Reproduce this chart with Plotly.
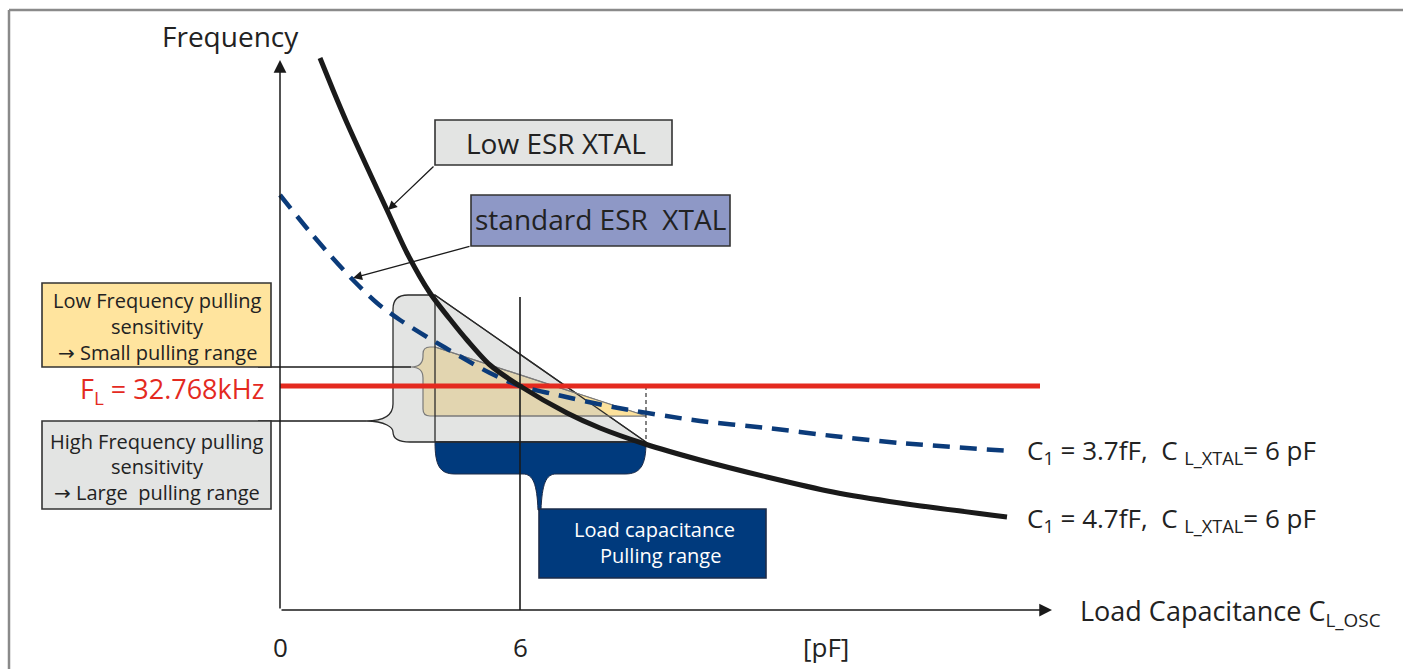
import numpy as np
import plotly.graph_objects as go

# ---------------- data ----------------
# load capacitance [pF] vs. frequency (arbitrary units)
cap_low_esr = [1.0, 1.325, 1.675, 2.175, 2.675, 3.175, 3.75, 4.325, 4.675, 5.25,
               6.0, 7.175, 8.0, 9.125, 10.5, 12.175, 13.825, 15.5, 18.175]
freq_low_esr = [13.8, 13.0, 12.175, 11.075, 10.0, 8.925, 7.925, 7.175, 6.75, 6.125,
                5.6, 4.925, 4.55, 4.15, 3.75, 3.325, 2.95, 2.675, 2.325]
cap_std_esr = [0.0, 0.75, 1.25, 1.825, 2.425, 3.0, 3.675, 4.575, 5.25, 6.0,
               6.825, 8.325, 10.5, 12.175, 13.825, 15.5, 18.25]
freq_std_esr = [10.375, 9.45, 8.875, 8.25, 7.675, 7.25, 6.825, 6.3, 5.925, 5.6,
                5.4, 5.075, 4.725, 4.55, 4.35, 4.175, 3.975]
f_load = 5.6            # F_L = 32.768 kHz
c_load_xtal = 6.0       # pF
pull_c = [3.875, 9.15]            # load capacitance pulling range [pF]
pull_f_low_esr = [7.875, 4.2]     # frequency span, low ESR crystal
pull_f_std_esr = [6.575, 4.85]    # frequency span, standard ESR crystal
red_line_x = [0.0, 19.0]
x_tick_vals = [0, 6, 13.65]
x_tick_text = ["0", "6", "[pF]"]

# ---------------- helpers (pixel <-> data for decoration) ----------------
def X(px):
    return (px - 280) / 40.0

def Y(py):
    return (610 - py) / 40.0

def PX(x):
    return 280 + 40.0 * x

def PY(y):
    return 610 - 40.0 * y

def path(cmds):
    s = ""
    for c in cmds:
        op, pts = c[0], c[1:]
        s += op
        for i in range(0, len(pts), 2):
            s += " %.4f,%.4f" % (X(pts[i]), Y(pts[i + 1]))
        s += " "
    return s + "Z"

FONT = "Open Sans"
TXT = "#222222"

fig = go.Figure()

# ---------------- pulling-range regions ----------------
c_lo, c_hi = pull_c
fs_hi, fs_lo = pull_f_low_esr
fd_hi, fd_lo = pull_f_std_esr

xl, xr = PX(c_lo), PX(c_hi)
gy0, gy1 = PY(fs_hi), PY(fs_lo)
yy0, yy1 = PY(fd_hi), PY(fd_lo)

shapes = []
# gray (large pulling range) with brace on the left
gray = path([("M", xl, gy0), ("L", xr, gy1), ("L", xl, gy1), ("L", 410, gy1),
             ("Q", 393, gy1, 393, gy1 - 10),
             ("C", 393, 428, 386, 421, 366, 421),
             ("C", 386, 421, 393, 414, 393, 404),
             ("L", 393, gy0 + 14), ("Q", 393, gy0, 408, gy0)])
shapes.append(dict(type="path", path=gray, fillcolor="#E3E4E3",
                   line=dict(color="#2b2b2b", width=1.3), layer="below"))
# yellow (small pulling range) with brace
yel = path([("M", xl, yy0), ("L", xr, yy1), ("L", xl, yy1), ("L", 430, yy1),
            ("Q", 423, yy1, 423, yy1 - 7),
            ("L", 423, 378), ("C", 423, 371, 419, 367, 411, 367),
            ("C", 419, 367, 423, 363, 423, 356),
            ("L", 423, yy0 + 7), ("Q", 423, yy0, 430, yy0)])
shapes.append(dict(type="path", path=yel, fillcolor="#E2D5B0",
                   line=dict(color="#7a7a7a", width=1.2), layer="below"))
# part of the yellow triangle outside the gray triangle
t = (fs_hi - fd_hi) / ((fd_lo - fd_hi) - (fs_lo - fs_hi))
t2 = (fd_lo - fs_hi) / (fs_lo - fs_hi)
cx = c_lo + (c_hi - c_lo) * t
cy = fs_hi + (fs_lo - fs_hi) * t
cx2 = c_lo + (c_hi - c_lo) * t2
tip = path([("M", PX(cx), PY(cy)), ("L", xr, yy1), ("L", PX(cx2), yy1)])
shapes.append(dict(type="path", path=tip, fillcolor="#FDE29C",
                   line=dict(width=0), layer="below"))
# re-draw edges on top of the tip
shapes.append(dict(type="line", x0=c_lo, y0=fs_hi, x1=c_hi, y1=fs_lo,
                   line=dict(color="#2b2b2b", width=1.3), layer="below"))
shapes.append(dict(type="line", x0=c_lo, y0=fd_hi, x1=c_hi, y1=fd_lo,
                   line=dict(color="#7a7a7a", width=1.2), layer="below"))
shapes.append(dict(type="line", x0=c_lo, y0=fd_lo, x1=c_hi, y1=fd_lo,
                   line=dict(color="#7a7a7a", width=1.2), layer="below"))
shapes.append(dict(type="line", x0=c_lo, y0=fs_hi, x1=c_lo, y1=fs_lo,
                   line=dict(color="#2b2b2b", width=1.3), layer="below"))
# navy (load capacitance pulling range) with brace pointing down
navy = path([("M", xl, gy1), ("L", xr, gy1),
             ("C", xr, 466, 640, 474, 625, 474), ("L", 556, 474),
             ("C", 546, 474, 542, 484, 541, 510), ("L", 538, 510),
             ("C", 537, 484, 533, 474, 523, 474), ("L", 455, 474),
             ("C", 440, 474, xl, 466, xl, gy1)])
shapes.append(dict(type="path", path=navy, fillcolor="#003A7D",
                   line=dict(color="#1d2c4a", width=1), layer="below"))
shapes.append(dict(type="line", x0=c_lo, y0=fs_lo, x1=c_hi, y1=fs_lo,
                   line=dict(color="#2b2b2b", width=1.3), layer="below"))
# dashed vertical at right end of pulling range
shapes.append(dict(type="line", x0=c_hi, y0=f_load, x1=c_hi, y1=fs_lo,
                   line=dict(color="#333333", width=1.2, dash="4px,3px"), layer="below"))
# vertical line at C_L_XTAL
shapes.append(dict(type="line", x0=c_load_xtal, y0=0, x1=c_load_xtal, y1=Y(297),
                   line=dict(color="#1a1a1a", width=1.6), layer="below"))

# connector lines from the text boxes to the braces
shapes.append(dict(type="line", x0=X(258), y0=Y(367), x1=X(411), y1=Y(367),
                   line=dict(color="#1a1a1a", width=1.6), layer="below"))
shapes.append(dict(type="line", x0=X(258), y0=Y(421), x1=X(366), y1=Y(421),
                   line=dict(color="#1a1a1a", width=1.6), layer="below"))

# text boxes
def box(x0, y0, x1, y1, fill, border="#333333"):
    shapes.append(dict(type="rect", x0=X(x0), y0=Y(y0), x1=X(x1), y1=Y(y1),
                       fillcolor=fill, line=dict(color=border, width=1.6), layer="below"))

box(435, 120, 672, 165, "#E3E4E3")
box(471, 195, 730, 246, "#8E98C6")
box(42, 283, 271, 367, "#FFE49E")
box(42, 421, 271, 509, "#E3E4E3")
box(539, 509, 766, 578, "#003A7D", border="#1d2c4a")

# frame
shapes.append(dict(type="line", x0=X(9), y0=Y(10), x1=X(1403), y1=Y(10),
                   line=dict(color="#8a8a8a", width=2.5), layer="below"))
shapes.append(dict(type="line", x0=X(9), y0=Y(10), x1=X(9), y1=Y(669),
                   line=dict(color="#8a8a8a", width=2.5), layer="below"))

# ---------------- traces ----------------
fig.add_trace(go.Scatter(x=red_line_x, y=[f_load, f_load], mode="lines",
                         line=dict(color="#E42A1F", width=5), hoverinfo="skip"))
fig.add_trace(go.Scatter(x=cap_std_esr, y=freq_std_esr, mode="lines",
                         line=dict(color="#0B3B7A", width=4.5, dash="17px,10px",
                                   shape="spline", smoothing=0.8), hoverinfo="skip"))
fig.add_trace(go.Scatter(x=cap_low_esr, y=freq_low_esr, mode="lines",
                         line=dict(color="#1a1a1a", width=5, shape="spline",
                                   smoothing=0.8),
                         hoverinfo="skip"))

# ---------------- annotations ----------------
ann = []

def text(px, py, s, size=24, color=TXT, anchor="center"):
    ann.append(dict(x=X(px), y=Y(py), xref="x", yref="y", text=s, showarrow=False,
                    xanchor=anchor, yanchor="middle",
                    font=dict(family=FONT, size=size, color=color)))

def arrow(tx, ty, sx, sy, width=1.3, size=1.4):
    ann.append(dict(x=X(tx), y=Y(ty), ax=X(sx), ay=Y(sy), xref="x", yref="y",
                    axref="x", ayref="y", text="", showarrow=True, arrowhead=2,
                    arrowsize=size, arrowwidth=width, arrowcolor="#1a1a1a",
                    standoff=0, startstandoff=0))

# axes with arrows
arrow(280, 60, 280, 610, width=1.5, size=1.7)
arrow(1052, 610, 280, 610, width=1.5, size=1.7)

text(230, 36, "Frequency", size=28)
for v, s in zip(x_tick_vals, x_tick_text):
    ann.append(dict(x=v, y=Y(647), xref="x", yref="y", text=s, showarrow=False,
                    xanchor="center", yanchor="middle",
                    font=dict(family=FONT, size=26, color=TXT)))
text(1078, 612, "Load Capacitance C<sub>L_OSC</sub>", size=27, anchor="left")

text(556, 143, "Low ESR XTAL", size=28)
text(600, 219, "standard ESR\u00a0 XTAL", size=28)
arrow(388, 210, 435, 165)
arrow(353, 278, 471, 246)

NB = "\u00a0"
ARR = '<span style="font-family:DejaVu Sans">\u2192</span>'
text(157, 300, "Low Frequency pulling", size=20)
text(157, 326, "sensitivity", size=20)
text(157, 352, ARR + " Small pulling range", size=20)
text(157, 441, "High Frequency pulling", size=20)
text(157, 466, "sensitivity", size=20)
text(157, 492, ARR + " Large" + NB + " pulling range", size=20)

text(266, 390, "F<sub>L</sub> = 32.768kHz", size=27, color="#E42A1F", anchor="right")

text(654, 529, "Load capacitance", size=20, color="white")
text(660, 555, "Pulling range", size=20, color="white")

text(1025, 451, "C<sub>1</sub> = 3.7fF," + NB + " C" + NB + "<sub>L_XTAL</sub>= 6 pF",
     size=26, anchor="left")
text(1025, 519, "C<sub>1</sub> = 4.7fF," + NB + " C" + NB + "<sub>L_XTAL</sub>= 6 pF",
     size=26, anchor="left")

fig.update_layout(
    width=1403, height=669, autosize=False,
    margin=dict(l=0, r=0, t=0, b=0),
    paper_bgcolor="white", plot_bgcolor="white",
    showlegend=False,
    xaxis=dict(range=[X(0), X(1403)], visible=False, fixedrange=True),
    yaxis=dict(range=[Y(669), Y(0)], visible=False, fixedrange=True),
    shapes=shapes, annotations=ann,
)

fig.write_html("out.html", config={"displayModeBar": False},
               post_script="document.body.style.margin='0';"
                           "document.body.style.overflow='hidden';")
